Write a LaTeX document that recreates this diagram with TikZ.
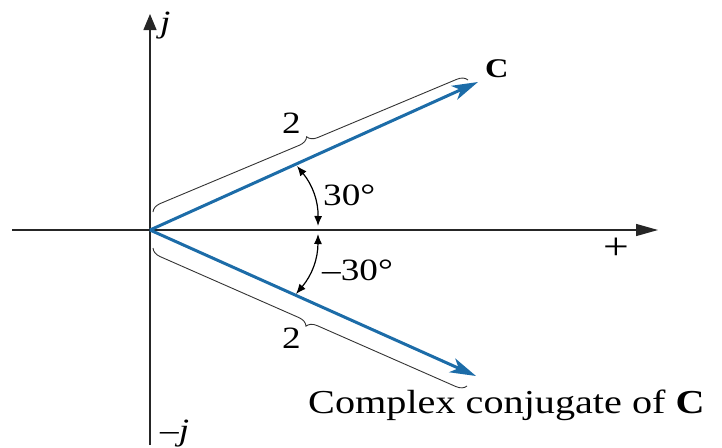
\documentclass[tikz,border=0pt]{standalone}
\usepackage{fontspec}
\setmainfont{Liberation Serif}
\usetikzlibrary{arrows.meta,decorations.pathreplacing}
\definecolor{vecblue}{RGB}{28,108,168}
\begin{document}
\begin{tikzpicture}[x=1pt,y=-1pt,
 axis/.style={line width=1.4pt, black!85},
 vec/.style={line width=3pt, vecblue, -{Stealth[length=26pt,width=15pt,inset=7pt]}},
 bracebar/.style={line width=0.9pt, black!80, decorate, decoration={brace,amplitude=10pt}},
 angarc/.style={line width=1.2pt, {Latex[length=10pt,width=8pt]}-{Latex[length=10pt,width=8pt]}},
 lbl/.style={inner sep=0pt, xscale=1.2, anchor=base west, font=\fontsize{31}{31}\selectfont}]
\useasboundingbox (0,0) rectangle (722,447);
\coordinate (O) at (150,230);
\coordinate (xl) at (12,230);
\coordinate (xr) at (658,230);
\coordinate (yt) at (150,14);
\coordinate (yb) at (150,445);
\draw[axis,-{Triangle[length=22pt,width=12pt]}] (xl) -- (xr);
\draw[axis,-{Triangle[length=16pt,width=13pt]}] (yb) -- (yt);
\coordinate (Ct) at (478,82);
\coordinate (Cc) at (476,376);
\draw[vec] (O) -- (Ct);
\draw[vec] (O) -- (Cc);
\coordinate (b1s) at (153,212);
\coordinate (b1e) at (468,80);
\coordinate (b2s) at (153,248);
\coordinate (b2e) at (467,386);
\draw[bracebar] (b1s) -- (b1e);
\draw[bracebar] (b2e) -- (b2s);
\coordinate (a1) at (318,226);
\coordinate (a2) at (297,166);
\coordinate (a3) at (318,234);
\coordinate (a4) at (296,294);
\draw[angarc] (a1) to[bend right=20] (a2);
\draw[angarc] (a3) to[bend left=20] (a4);
\node[lbl] (jp) at (160,32) {\textit{j}};
\node[lbl] (jm) at (160,440) {–\textit{j}};
\node[lbl,anchor=center,font=\fontsize{38}{38}\selectfont] (plus) at (616,249) {+};
\node[lbl,font=\bfseries\fontsize{27}{27}\selectfont] (Cl) at (485,77) {C};
\node[lbl] (two1) at (282,133) {2};
\node[lbl] (two2) at (282,348) {2};
\node[lbl] (a30) at (323,205) {30°};
\node[lbl] (am30) at (322,280) {–30°};
\node[lbl,font=\fontsize{33.5}{33.5}\selectfont] (cc) at (308,413) {Complex conjugate of \textbf{C}};
\end{tikzpicture}
\end{document}
